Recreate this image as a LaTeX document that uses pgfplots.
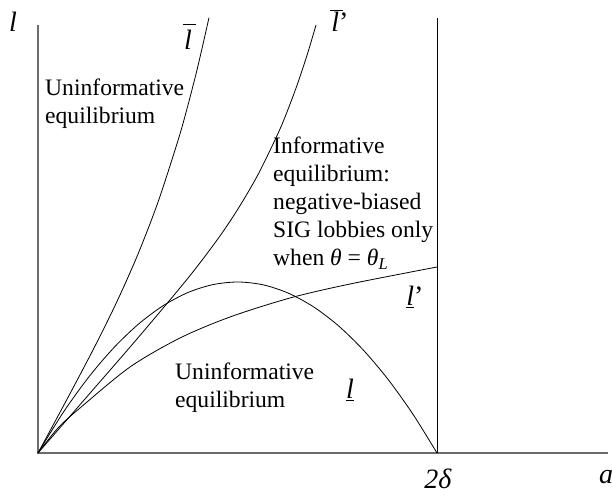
\documentclass[border=0pt]{standalone}
\usepackage{fontspec}
\setmainfont{Liberation Serif}
\usepackage{pgfplots}
\pgfplotsset{compat=1.18}
\newcommand{\lblfont}{\fontsize{23.6}{28}\selectfont}
\newcommand{\bigfont}{\fontsize{28}{30}\selectfont}
\newcommand{\barl}[1]{\makebox[0pt][l]{\hspace{-1pt}\raisebox{#1}{\rule{12.5pt}{1pt}}}\textit{l}}
\begin{document}
\begin{tikzpicture}
\useasboundingbox (0,0) rectangle (612pt,497pt);
\begin{axis}[
  at={(0,0)}, anchor=south west,
  x=1pt, y=1pt,
  xmin=-38, xmax=574, ymin=-44, ymax=453,
  hide axis, clip=false,
]
% axes
\addplot[gray!85!black, line width=1.2pt] coordinates {(0,428) (0,0) (570,0)};
% vertical line at 2 delta
\addplot[black, line width=0.8pt] coordinates {(399,0) (399,435)};
% l-bar
\addplot[black, line width=0.8pt, smooth] coordinates {
(0,0) (20,37.0) (40,74.4) (60,112.8) (80,153.7) (100,198.9) (120,250.9) (140,312.5)
(150,348.0) (160,387.2) (171,435.4)};
% l-bar'
\addplot[black, line width=0.8pt, smooth] coordinates {
(0,0) (50,57.5) (100,115.2) (150,174.9) (180,214.3) (200,244.1) (220,278.4)
(240,319.5) (250,343.6) (260,370.5) (270,400.9) (278,428)};
% l'
\addplot[black, line width=0.8pt, smooth] coordinates {
(0,0) (20,25) (42,45) (92,86) (142,115) (192,136) (252,155) (312,169) (399,186)};
% l (parabola)
\addplot[black, line width=0.8pt, smooth] coordinates {
(0,0) (25,40.2) (50,75.0) (75,104.4) (100,128.5) (125,147.2) (150,160.5) (175,168.4)
(200,171.0) (225,168.2) (250,160.0) (275,146.5) (300,127.6) (325,103.3) (350,73.7)
(375,38.7) (399,0)};
% labels
\node[font=\bigfont] at (axis cs:-25,431) {\textit{l}};
\node[font=\bigfont, anchor=north] at (axis cs:400,-12) {\textit{2δ}};
\node[font=\bigfont, anchor=west, inner sep=1pt] at (axis cs:560,-24) {\textit{a}};
\node[font=\bigfont] at (axis cs:150,416) {\barl{25pt}};
\node[font=\bigfont] at (axis cs:302,432) {\barl{21pt}’};
\node[font=\bigfont] at (axis cs:377,156) {\underline{\textit{l}}’};
\node[font=\bigfont] at (axis cs:312,63) {\underline{\textit{l}}};
\node[font=\lblfont, anchor=west, align=left, inner sep=0pt] at (axis cs:7,349) {Uninformative\\equilibrium};
\node[font=\lblfont, anchor=west, align=left, inner sep=0pt] at (axis cs:137,65) {Uninformative\\equilibrium};
\node[font=\lblfont, anchor=west, align=left, inner sep=0pt] at (axis cs:235,250) {Informative\\equilibrium:\\negative-biased\\SIG lobbies only\\when \textit{θ} = \textit{θ}\textsubscript{\textit{L}}};
\end{axis}
\end{tikzpicture}
\end{document}
